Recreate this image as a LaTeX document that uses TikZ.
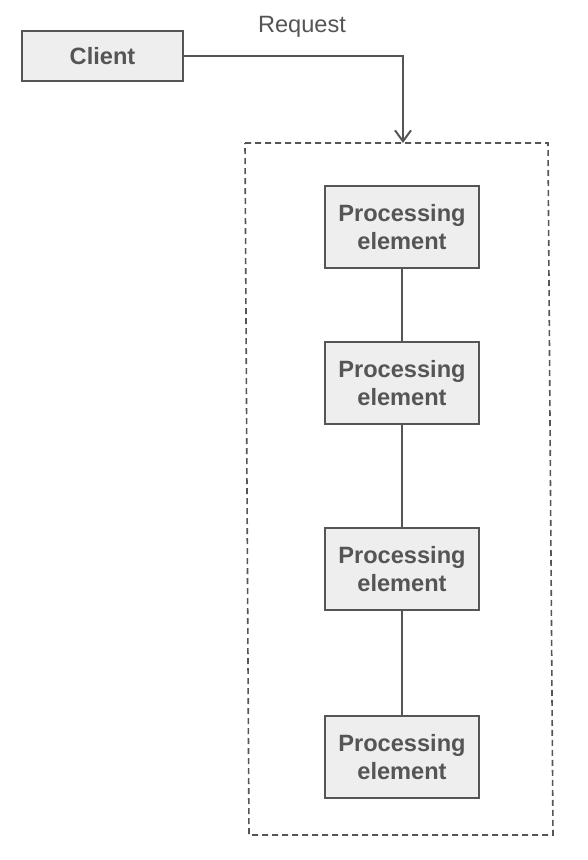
\documentclass[tikz,border=0pt]{standalone}
\usepackage{fontspec}
\setmainfont{Liberation Sans}
\usetikzlibrary{arrows.meta}
\definecolor{ink}{HTML}{555555}
\definecolor{boxfill}{HTML}{EEEEEE}
\begin{document}
\begin{tikzpicture}[x=1pt,y=-1pt,
  box/.style={draw=ink, line width=2pt, fill=boxfill, text=ink, font=\fontsize{23.6}{28}\selectfont\bfseries, align=center, inner sep=0pt},
  pe/.style={box, minimum width=154pt, minimum height=82pt},
  link/.style={draw=ink, line width=2pt},
  grp/.style={draw=ink, line width=1.6pt, dash pattern=on 6pt off 4pt}]
\useasboundingbox (0,0) rectangle (588,860);
\node[box, minimum width=161pt, minimum height=50pt] (client) at (102.5,56) {Client};
\node[text=ink, font=\fontsize{23.6}{28}\selectfont] (req) at (302,27) {Request};
\coordinate (g1) at (245,143);
\coordinate (g2) at (548,143);
\coordinate (g3) at (553,835);
\coordinate (g4) at (249,835);
\coordinate (gtop) at (403,143);
\draw[grp] (g1) -- (g2) -- (g3) -- (g4) -- cycle;
\node[pe] (p1) at (402,227) {Processing\\element};
\node[pe] (p2) at (402,383) {Processing\\element};
\node[pe] (p3) at (402,569) {Processing\\element};
\node[pe] (p4) at (402,757) {Processing\\element};
\draw[link, -{Straight Barb[length=11pt,width=16pt]}] (client.east) -| (gtop);
\draw[link] (p1) -- (p2);
\draw[link] (p2) -- (p3);
\draw[link] (p3) -- (p4);
\end{tikzpicture}
\end{document}
